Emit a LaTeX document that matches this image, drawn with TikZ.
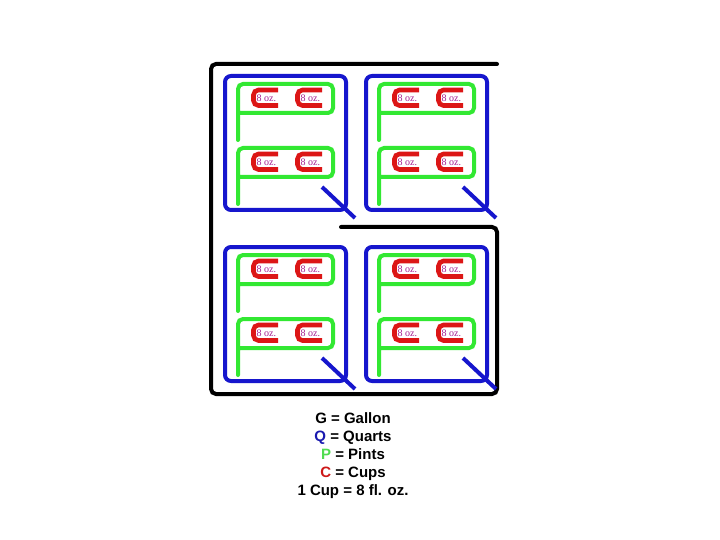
\documentclass[tikz,border=0pt]{standalone}
\usepackage{fontspec}
\setmainfont{Liberation Sans}
\newfontfamily\ozfont{Liberation Serif}
\definecolor{qblue}{RGB}{22,22,205}
\definecolor{pgreen}{RGB}{50,232,50}
\definecolor{cred}{RGB}{220,22,22}
\definecolor{ozpurple}{RGB}{165,30,145}
\definecolor{lgblue}{RGB}{25,25,175}
\definecolor{lggreen}{RGB}{80,220,80}
\definecolor{lgred}{RGB}{205,25,25}
\tikzset{
  gline/.style={draw=black,line width=4pt,rounded corners=5pt,line cap=round},
  qline/.style={draw=qblue,line width=4pt,rounded corners=6pt,line cap=round},
  pline/.style={draw=pgreen,line width=4pt,rounded corners=5pt,line cap=round},
  cline/.style={draw=cred,line width=4.6pt,rounded corners=5pt},
  oztext/.style={font=\ozfont\fontsize{10}{11}\selectfont,text=ozpurple,inner sep=0pt,anchor=base west},
  legend/.style={font=\bfseries\fontsize{15}{17}\selectfont,inner sep=0pt,anchor=base}
}
\begin{document}
\begin{tikzpicture}[x=1pt,y=-1pt]
\useasboundingbox (0,0) rectangle (720,540);
\fill[white] (0,0) rectangle (720,540);
% Gallon G
\coordinate (g1) at (497,64);
\coordinate (g2) at (211,64);
\coordinate (g3) at (211,394);
\coordinate (g4) at (497,394);
\coordinate (g5) at (497,227);
\coordinate (g6) at (341,227);
\draw[gline] (g1) -- (g2) -- (g3) -- (g4) -- (g5) -- (g6);
% Quarts
\foreach \dx/\dy/\n in {0/0/a,141/0/b,0/171/c,141/171/d}{
  \begin{scope}[shift={(\dx,\dy)}]
    \draw[qline] (225,76) rectangle (346,210);
    \coordinate (t1\n) at (322,187);
    \coordinate (t2\n) at (355,218);
    \draw[draw=qblue,line width=4pt] (t1\n) -- (t2\n);
    \foreach \py in {0,64}{
      \begin{scope}[shift={(0,\py)}]
        \draw[pline] (238,140) -- (238,84) -- (333,84) -- (333,113) -- (238,113);
        \foreach \cx in {0,44}{
          \begin{scope}[shift={(\cx,0)}]
            \draw[cline] (278,90) -- (253.5,90) -- (253.5,105.5) -- (278,105.5);
            \node[oztext] (oz\n\py\cx) at (256.5,101.5) {8 oz.};
          \end{scope}
        }
      \end{scope}
    }
  \end{scope}
}
% Legend
\node[legend] (l1) at (353,423.5) {G = Gallon};
\node[legend] (l2) at (353,441.5) {\textcolor{lgblue}{Q} = Quarts};
\node[legend] (l3) at (353,459.5) {\textcolor{lggreen}{P} = Pints};
\node[legend] (l4) at (353,477.5) {\textcolor{lgred}{C} = Cups};
\node[legend] (l5) at (353,495.5) {1 Cup = 8 fl. oz.};
\end{tikzpicture}
\end{document}
